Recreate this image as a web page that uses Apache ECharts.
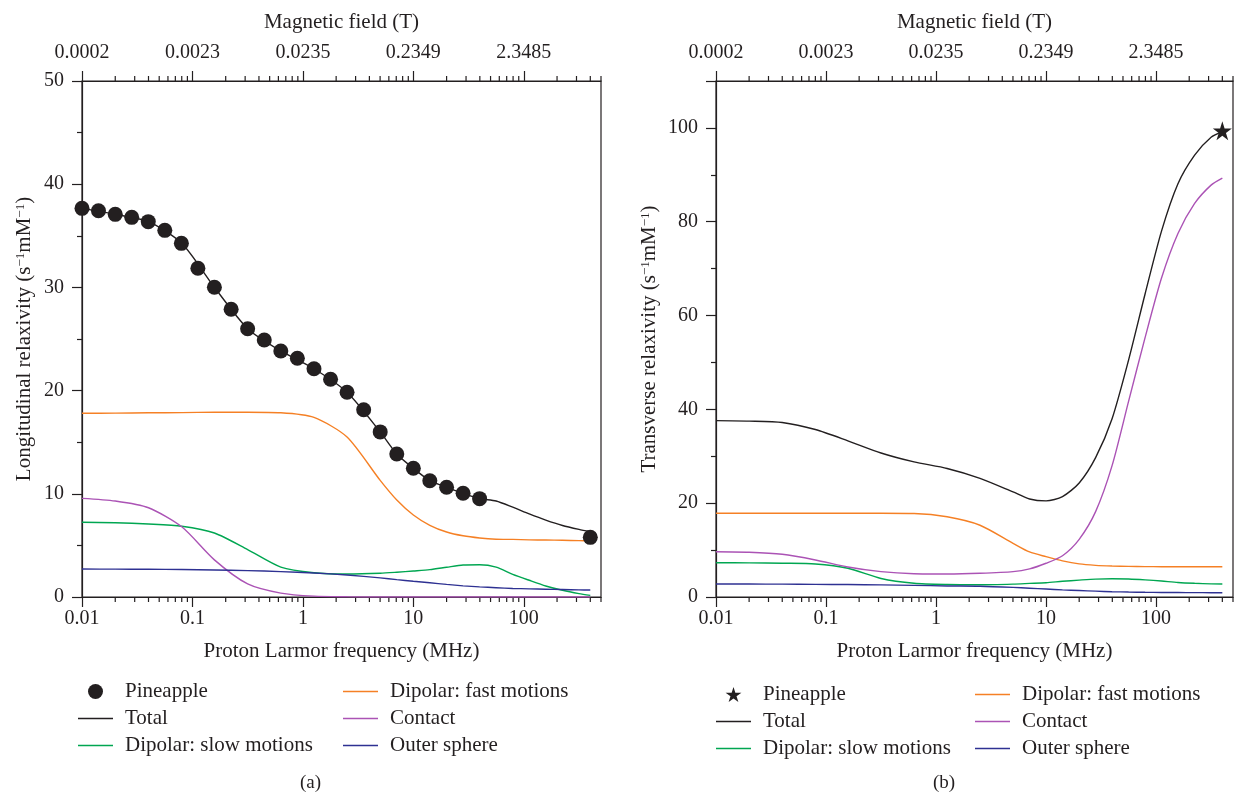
<!DOCTYPE html>
<html><head><meta charset="utf-8">
<script src="https://cdn.jsdelivr.net/npm/echarts@6/dist/echarts.min.js"></script>
<style>html,body{margin:0;padding:0;background:#fff}#c{width:1234px;height:800px}</style>
</head><body><div id="c"></div>
<script>
// ---- data ----
const freqGrid = [0.01, 0.02, 0.04, 0.08, 0.158, 0.316, 0.631, 1.26, 2.51, 5.01, 7.08, 10, 14.1, 20, 28.2, 39.8, 56.2, 79.4, 112, 158, 224, 316, 400];

const pineFreqA = [0.01, 0.0141, 0.02, 0.0282, 0.0398, 0.0562, 0.0794, 0.112, 0.158, 0.224, 0.316, 0.447, 0.631, 0.891, 1.26, 1.78, 2.51, 3.55, 5.01, 7.08, 10, 14.1, 20, 28.2, 39.8, 400];
const pineA = [37.66, 37.43, 37.08, 36.79, 36.37, 35.53, 34.27, 31.85, 30.01, 27.88, 26.0, 24.9, 23.84, 23.13, 22.12, 21.1, 19.84, 18.15, 16.0, 13.86, 12.47, 11.27, 10.63, 10.05, 9.53, 5.78];
const totalA = [37.66, 37.08, 36.37, 34.27, 30.01, 26.0, 23.84, 22.12, 19.84, 16.0, 13.86, 12.47, 11.27, 10.63, 10.05, 9.53, 9.3, 8.7, 8.05, 7.45, 6.93, 6.55, 6.33];
const fastA = [17.8, 17.82, 17.85, 17.87, 17.9, 17.9, 17.85, 17.4, 15.5, 11.3, 9.4, 7.95, 6.95, 6.3, 5.93, 5.72, 5.6, 5.58, 5.54, 5.52, 5.5, 5.46, 5.43];
const slowA = [7.24, 7.2, 7.07, 6.85, 6.2, 4.6, 2.9, 2.35, 2.23, 2.3, 2.4, 2.52, 2.65, 2.88, 3.1, 3.13, 2.9, 2.2, 1.62, 1.07, 0.65, 0.33, 0.16];
const contactA = [9.56, 9.3, 8.65, 6.8, 3.6, 1.27, 0.38, 0.08, 0.02, 0, 0, 0, 0, 0, 0, 0, 0, 0, 0, 0, 0, 0, 0];
const outerA = [2.71, 2.7, 2.69, 2.66, 2.62, 2.56, 2.46, 2.33, 2.13, 1.85, 1.68, 1.52, 1.38, 1.22, 1.08, 0.98, 0.9, 0.83, 0.79, 0.75, 0.72, 0.69, 0.68];

const pineFreqB = [400];
const pineB = [99.4];
const totalB = [37.6, 37.5, 37.2, 35.7, 33.3, 30.7, 28.8, 27.4, 25.3, 22.4, 20.9, 20.5, 21.4, 24.3, 29.7, 38.0, 50.5, 64.6, 78.0, 88.1, 94.2, 98.0, 99.2];
const fastB = [17.85, 17.85, 17.85, 17.85, 17.85, 17.85, 17.8, 17.1, 15.3, 11.45, 9.6, 8.6, 7.7, 7.05, 6.75, 6.6, 6.52, 6.48, 6.46, 6.46, 6.46, 6.46, 6.46];
const slowB = [7.31, 7.28, 7.2, 7.05, 6.12, 3.95, 2.92, 2.65, 2.6, 2.75, 2.9, 3.05, 3.35, 3.6, 3.82, 3.9, 3.85, 3.66, 3.4, 3.1, 2.92, 2.8, 2.77];
const contactB = [9.66, 9.55, 9.1, 7.9, 6.4, 5.4, 4.95, 4.9, 5.05, 5.4, 6.0, 7.2, 8.8, 12.3, 18.2, 28.0, 41.7, 55.3, 68.0, 77.5, 83.9, 87.8, 89.3];
const outerB = [2.77, 2.76, 2.74, 2.7, 2.65, 2.58, 2.48, 2.36, 2.3, 2.05, 1.87, 1.7, 1.52, 1.38, 1.25, 1.13, 1.05, 1.0, 0.97, 0.95, 0.93, 0.92, 0.92];

const bottomLabels = ['0.01', '0.1', '1', '10', '100'];
const topLabels = ['0.0002', '0.0023', '0.0235', '0.2349', '2.3485'];
const minorTickValues = [0.02,0.03,0.04,0.05,0.06,0.07,0.08,0.09, 0.2,0.3,0.4,0.5,0.6,0.7,0.8,0.9, 2,3,4,5,6,7,8,9, 20,30,40,50,60,70,80,90, 200,300,400,500];

// ---- style ----
const FONT = 'Liberation Serif';
const INK = '#231f20';
const C = { total: INK, fast: '#F58025', slow: '#00A651', contact: '#AB53B5', outer: '#2E3192' };
const starPath = 'path://M50,0 L61.2,34.5 L97.6,34.5 L68.2,55.9 L79.4,90.5 L50,69.1 L20.6,90.5 L31.8,55.9 L2.4,34.5 L38.8,34.5 Z';
const lineIcon = 'path://M0,0 L35,0 L35,1.4 L0,1.4 Z';

const pairs = (xs, ys) => xs.map((x, i) => [x, ys[i]]);
const isDecade = v => Math.abs(Math.log10(v) - Math.round(Math.log10(v))) < 1e-6;
const decadeIndex = v => Math.round(Math.log10(v)) + 2;

function bottomAxis(grid) {
  return {
    type: 'log', logBase: 10, gridIndex: grid, position: 'bottom', min: 0.01, max: 500,
    name: 'Proton Larmor frequency (MHz)', nameLocation: 'middle', nameGap: 44,
    nameTextStyle: { fontFamily: FONT, fontSize: 21, color: INK },
    axisLine: { show: true, lineStyle: { color: INK, width: 1.2 } },
    axisTick: { show: true, inside: false, length: 10, lineStyle: { color: INK, width: 1.2 } },
    axisLabel: { fontFamily: FONT, fontSize: 20, color: INK, margin: 12, showMaxLabel: false,
      formatter: v => (isDecade(v) && bottomLabels[decadeIndex(v)] !== undefined) ? bottomLabels[decadeIndex(v)] : '' },
    splitLine: { show: false }, minorTick: { show: false }
  };
}
function topAxis(grid) {
  return {
    type: 'log', logBase: 10, gridIndex: grid, position: 'top', min: 0.01, max: 500,
    name: 'Magnetic field (T)', nameLocation: 'middle', nameGap: 48,
    nameTextStyle: { fontFamily: FONT, fontSize: 21, color: INK },
    axisLine: { show: true, lineStyle: { color: INK, width: 1.2 } },
    axisTick: { show: true, inside: false, length: 10, lineStyle: { color: INK, width: 1.2 } },
    axisLabel: { fontFamily: FONT, fontSize: 20, color: INK, margin: 18, showMaxLabel: false,
      formatter: v => (isDecade(v) && topLabels[decadeIndex(v)] !== undefined) ? topLabels[decadeIndex(v)] : '' },
    splitLine: { show: false }
  };
}
function yAxis(grid, max, interval, name, gap) {
  return {
    type: 'value', gridIndex: grid, min: 0, max: max, interval: interval,
    name: name, nameLocation: 'middle', nameGap: gap, nameRotate: 90,
    nameTextStyle: { fontFamily: FONT, fontSize: 21, color: INK,
      rich: { sup: { fontFamily: FONT, fontSize: 13, color: INK, verticalAlign: 'top', lineHeight: 13 } } },
    axisLine: { show: true, lineStyle: { color: INK, width: 1.2 } },
    axisTick: { show: true, inside: false, length: 10, lineStyle: { color: INK, width: 1.2 } },
    minorTick: { show: true, splitNumber: 2, length: 5, lineStyle: { color: INK, width: 1.2 } },
    axisLabel: { fontFamily: FONT, fontSize: 20, color: INK, margin: 18, showMaxLabel: max === 50 },
    splitLine: { show: false }
  };
}
function line(name, xi, yi, ys, color) {
  return { name, type: 'line', xAxisIndex: xi, yAxisIndex: yi, data: pairs(freqGrid, ys),
    symbol: 'none', showSymbol: false, smooth: 0.25, lineStyle: { color, width: 1.4 }, itemStyle: { color }, z: 3 };
}
function minorTicks(xi, yi) {
  return { type: 'custom', xAxisIndex: xi, yAxisIndex: yi, silent: true, clip: false, z: 1,
    data: minorTickValues.map(v => [v, 0]),
    renderItem: (params, api) => {
      const p = api.coord([api.value(0), 0]);
      const cs = params.coordSys;
      const st = { stroke: INK, lineWidth: 1.2 };
      return { type: 'group', children: [
        { type: 'line', shape: { x1: p[0], y1: cs.y + cs.height, x2: p[0], y2: cs.y + cs.height + 5 }, style: st },
        { type: 'line', shape: { x1: p[0], y1: cs.y, x2: p[0], y2: cs.y - 5 }, style: st }
      ] };
    }
  };
}
const legendText = { fontFamily: FONT, fontSize: 21, color: INK, lineHeight: 21, padding: [0, 0, 0, 7] };
function legend(left, top, names, pineIcon) {
  return { orient: 'vertical', left, top, padding: 0, itemWidth: 35, itemHeight: 15, itemGap: 6,
    textStyle: legendText, selectedMode: false,
    data: names.map(n => n === 'Pineapple'
      ? { name: n, icon: pineIcon, itemStyle: { color: INK, opacity: 1 } }
      : { name: n, icon: lineIcon }) };
}

const option = {
  backgroundColor: '#fff',
  animation: false,
  grid: [
    { left: 82, top: 81, width: 519, height: 516, show: true, borderColor: INK, borderWidth: 1.2, backgroundColor: 'transparent' },
    { left: 716, top: 81, width: 517, height: 516, show: true, borderColor: INK, borderWidth: 1.2, backgroundColor: 'transparent' }
  ],
  xAxis: [bottomAxis(0), topAxis(0), bottomAxis(1), topAxis(1)],
  yAxis: [
    yAxis(0, 50, 10, 'Longitudinal relaxivity (s{sup|−1}mM{sup|−1})', 47),
    yAxis(1, 110, 20, 'Transverse relaxivity (s{sup|−1}mM{sup|−1})', 56)
  ],
  legend: [
    legend(78, 681, ['Pineapple', 'Total', 'Dipolar: slow motions'], 'circle'),
    legend(343, 681, ['Dipolar: fast motions', 'Contact', 'Outer sphere'], 'circle'),
    legend(716, 684, ['Pineapple', 'Total', 'Dipolar: slow motions'], starPath),
    legend(975, 684, ['Dipolar: fast motions', 'Contact', 'Outer sphere'], starPath)
  ],
  graphic: [
    { type: 'text', left: 300, top: 774, style: { text: '(a)', font: '19px "Liberation Serif"', fill: INK } },
    { type: 'text', left: 933, top: 774, style: { text: '(b)', font: '19px "Liberation Serif"', fill: INK } }
  ],
  series: [
    minorTicks(0, 0),
    minorTicks(2, 1),
    line('Total', 0, 0, totalA, C.total),
    line('Dipolar: fast motions', 0, 0, fastA, C.fast),
    line('Dipolar: slow motions', 0, 0, slowA, C.slow),
    line('Contact', 0, 0, contactA, C.contact),
    line('Outer sphere', 0, 0, outerA, C.outer),
    { name: 'Pineapple', type: 'scatter', xAxisIndex: 0, yAxisIndex: 0, data: pairs(pineFreqA, pineA),
      symbol: 'circle', symbolSize: 15, itemStyle: { color: INK, opacity: 1 }, z: 5 },
    line('Total', 2, 1, totalB, C.total),
    line('Dipolar: fast motions', 2, 1, fastB, C.fast),
    line('Dipolar: slow motions', 2, 1, slowB, C.slow),
    line('Contact', 2, 1, contactB, C.contact),
    line('Outer sphere', 2, 1, outerB, C.outer),
    { name: 'Pineapple', type: 'scatter', xAxisIndex: 2, yAxisIndex: 1, data: pairs(pineFreqB, pineB),
      symbol: starPath, symbolSize: 19, itemStyle: { color: INK, opacity: 1 }, z: 5 }
  ]
};
const chart = echarts.init(document.getElementById('c'), null, { renderer: 'canvas' });
chart.setOption(option);
</script>
</body></html>
